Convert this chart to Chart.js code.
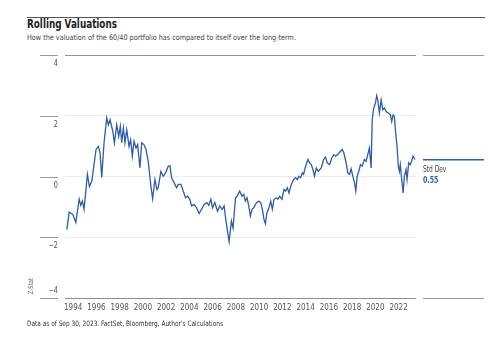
<!DOCTYPE html>
<html>
<head>
<meta charset="utf-8">
<script src="https://cdn.jsdelivr.net/npm/chart.js@4.4.1/dist/chart.umd.min.js"></script>
<style>
  html, body { margin:0; padding:0; background:#fff; }
  #wrap { position:relative; width:500px; height:339px; overflow:hidden;
    font-family:"DejaVu Sans Condensed","Liberation Sans Narrow",sans-serif; }
  #rule { position:absolute; left:27px; top:16.5px; width:458px; height:0; border-top:1.3px solid #555; }
  .txt { position:absolute; left:27px; white-space:nowrap; transform-origin:0 0; }
  #title { top:16px; font-size:12.5px; font-weight:bold; color:#222; }
  #subtitle { top:32.5px; font-size:7.6px; color:#444; }
  #source { top:319px; font-size:7.4px; color:#333; }
  canvas { position:absolute; left:0; top:0; }
</style>
</head>
<body>
<div id="wrap">
  <div id="rule"></div>
  <div id="title" class="txt" data-w="90">Rolling Valuations</div>
  <div id="subtitle" class="txt" data-w="269">How the valuation of the 60/40 portfolio has compared to itself over the long-term.</div>
  <canvas id="chart" width="500" height="339"></canvas>
  <div id="source" class="txt" data-w="196">Data as of Sep 30, 2023. FactSet, Bloomberg, Author's Calculations</div>
</div>
<script>
// rolling z-score of the 60/40 valuation, sampled as decimal years
const years = [
  1993.46,1993.66,1993.97,1994.23,1994.52,1994.66,1994.80,1994.94,1995.23,1995.40,1995.61,1995.97,
  1996.17,1996.32,1996.46,1996.66,1996.89,1997.03,1997.18,1997.41,1997.55,1997.75,1997.92,1998.06,
  1998.18,1998.32,1998.46,1998.61,1998.81,1998.95,1999.09,1999.24,1999.41,1999.55,1999.75,1999.90,
  2000.09,2000.27,2000.46,2000.69,2000.84,2001.04,2001.21,2001.32,2001.55,2001.75,2001.96,2002.18,
  2002.33,2002.47,2002.70,2002.90,2003.04,2003.27,2003.47,2003.67,2003.85,2004.04,2004.19,2004.39,
  2004.62,2004.84,2005.05,2005.27,2005.50,2005.67,2005.85,2005.99,2006.19,2006.42,2006.62,2006.82,
  2006.99,2007.11,2007.28,2007.42,2007.62,2007.76,2007.97,2008.10,2008.33,2008.53,2008.68,2008.82,
  2008.96,2009.11,2009.25,2009.39,2009.54,2009.77,2009.97,2010.14,2010.28,2010.42,2010.54,2010.68,
  2010.85,2011.00,2011.14,2011.28,2011.49,2011.62,2011.77,2011.97,2012.14,2012.28,2012.43,2012.57,
  2012.77,2012.97,2013.14,2013.29,2013.42,2013.57,2013.72,2013.83,2014.00,2014.20,2014.34,2014.49,
  2014.63,2014.77,2014.92,2015.09,2015.35,2015.55,2015.72,2015.86,2016.06,2016.26,2016.43,2016.58,
  2016.77,2017.00,2017.15,2017.29,2017.49,2017.63,2017.78,2017.92,2018.06,2018.21,2018.32,2018.44,
  2018.58,2018.72,2018.87,2019.06,2019.21,2019.35,2019.49,2019.64,2019.73,2019.86,2020.01,2020.12,
  2020.21,2020.35,2020.50,2020.64,2020.78,2020.93,2021.12,2021.30,2021.41,2021.53,2021.64,2021.75,
  2021.87,2021.98,2022.07,2022.15,2022.27,2022.39,2022.50,2022.64,2022.73,2022.87,2023.01,2023.12,
  2023.24,2023.42
];
const zStat = [
  -1.74,-1.17,-1.25,-1.51,-0.75,-0.95,-0.81,-1.08,0.07,-0.33,-0.15,0.89,
  0.99,0.78,-0.03,1.11,1.93,1.70,1.87,1.49,1.11,1.70,1.32,1.65,
  1.11,1.60,1.11,1.54,0.99,1.21,0.67,1.16,0.94,1.05,0.28,1.11,
  1.05,0.89,0.50,-0.32,-0.73,-0.10,-0.43,-0.37,0.17,0.01,0.12,0.34,
  0.36,-0.04,-0.21,-0.37,-0.26,-0.26,-0.48,-0.70,-0.65,-0.75,-0.97,-0.92,
  -1.03,-1.22,-1.08,-0.92,-0.86,-0.95,-0.75,-1.03,-0.86,-1.14,-0.97,-1.08,
  -0.97,-1.35,-1.79,-2.15,-1.47,-1.70,-0.70,-0.65,-0.48,-0.65,-0.59,-0.81,
  -0.70,-0.97,-1.30,-1.08,-1.03,-0.86,-0.81,-0.86,-1.08,-1.41,-1.55,-1.19,
  -1.03,-0.81,-1.08,-0.75,-0.70,-0.75,-0.65,-0.75,-0.43,-0.48,-0.37,-0.54,
  -0.26,-0.10,-0.04,-0.10,0.01,-0.04,0.12,0.07,0.34,0.56,0.45,0.39,
  0.23,0.01,0.28,0.17,0.28,0.56,0.64,0.45,0.39,0.61,0.72,0.67,
  0.72,0.83,0.89,0.78,0.45,0.12,0.07,0.25,0.01,-0.21,-0.48,0.01,
  0.17,0.39,0.34,0.56,0.50,0.72,0.94,0.28,1.87,2.25,2.42,2.66,
  2.52,2.09,2.52,2.20,2.25,2.14,2.09,2.03,1.81,2.03,1.98,1.43,
  0.99,0.34,0.17,0.39,-0.10,-0.54,0.01,0.23,-0.10,0.45,0.39,0.50,
  0.67,0.56
];
const yearTicks = [1994,1996,1998,2000,2002,2004,2006,2008,2010,2012,2014,2016,2018,2020,2022];
const zTicks = [4,2,0,-2,-4];
const stdDev = 0.55;

const FONT = '"DejaVu Sans Condensed","Liberation Sans Narrow",sans-serif';
const BLUE = '#2d5da6';

// squeeze the html captions to the narrow width of the original typeface
document.querySelectorAll('.txt').forEach(el => {
  const w = el.getBoundingClientRect().width;
  el.style.transform = `scaleX(${(+el.dataset.w / w).toFixed(3)})`;
});

// draw text on the canvas squeezed horizontally
function narrowText(ctx, text, x, y, sx, align) {
  ctx.save();
  ctx.translate(x, y);
  ctx.scale(sx, 1);
  ctx.textAlign = align;
  ctx.fillText(text, 0, 0);
  ctx.restore();
}

// tick stubs and labels on the left, side panel with the std dev marker, axis title
const sideMarks = {
  id: 'sideMarks',
  afterDraw(chart) {
    const { ctx, scales: { y } } = chart;
    ctx.save();
    ctx.lineWidth = 1;
    ctx.strokeStyle = '#9a9a9a';
    ctx.fillStyle = '#555';
    ctx.font = '8.5px ' + FONT;
    ctx.textBaseline = 'middle';
    y.ticks.forEach(t => {
      const py = Math.round(y.getPixelForValue(t.value)) + 0.5;
      ctx.beginPath(); ctx.moveTo(40, py); ctx.lineTo(58, py); ctx.stroke();
      const label = t.value < 0 ? '\u2212' + Math.abs(t.value) : String(t.value);
      narrowText(ctx, label, 58, py + (t.value === -4 ? -7.5 : 8), 0.85, 'right');
    });
    [4, -4].forEach(v => {
      const py = Math.round(y.getPixelForValue(v)) + 0.5;
      ctx.beginPath(); ctx.moveTo(423, py); ctx.lineTo(484, py); ctx.stroke();
    });
    const sy = y.getPixelForValue(stdDev);
    ctx.strokeStyle = BLUE; ctx.lineWidth = 1.5;
    ctx.beginPath(); ctx.moveTo(423, sy); ctx.lineTo(484, sy); ctx.stroke();

    ctx.fillStyle = '#444';
    ctx.font = '8px ' + FONT;
    narrowText(ctx, 'Std Dev', 423, sy + 10, 0.82, 'left');
    ctx.fillStyle = '#3563ab';
    ctx.font = 'bold 8.5px ' + FONT;
    narrowText(ctx, stdDev.toFixed(2), 423, sy + 21, 0.82, 'left');

    ctx.translate(31, 286);
    ctx.rotate(-Math.PI / 2);
    ctx.fillStyle = '#666';
    ctx.font = '7px ' + FONT;
    narrowText(ctx, 'Z-Stat', 0, 0, 0.85, 'center');
    ctx.restore();
  }
};

new Chart(document.getElementById('chart'), {
  type: 'line',
  data: {
    datasets: [{
      data: years.map((t, i) => ({ x: t, y: zStat[i] })),
      borderColor: BLUE, borderWidth: 1.3, pointRadius: 0, tension: 0, fill: false
    }]
  },
  options: {
    responsive: false, animation: false,
    layout: { padding: { top: 55, right: 84, left: 0, bottom: 0 } },
    plugins: { legend: { display: false }, tooltip: { enabled: false } },
    scales: {
      x: {
        type: 'linear', min: 1993.3, max: 2023.5,
        afterFit: s => { s.height = 41; },
        afterBuildTicks: s => { s.ticks = yearTicks.map(v => ({ value: v })); },
        grid: { display: false, drawTicks: false },
        border: { display: false },
        ticks: { color: '#555', font: { family: FONT, size: 8 }, padding: 5, maxRotation: 0, autoSkip: false,
          callback: v => String(v) }
      },
      y: {
        min: -4, max: 4,
        afterFit: s => { s.width = 65; },
        afterBuildTicks: s => { s.ticks = zTicks.map(v => ({ value: v })); },
        grid: { drawTicks: false,
          color: c => (c.tick && Math.abs(c.tick.value) === 4) ? '#8f8f8f' : '#ececec',
          lineWidth: 1 },
        border: { display: false },
        ticks: { display: false }
      }
    }
  },
  plugins: [sideMarks]
});
</script>
</body>
</html>
